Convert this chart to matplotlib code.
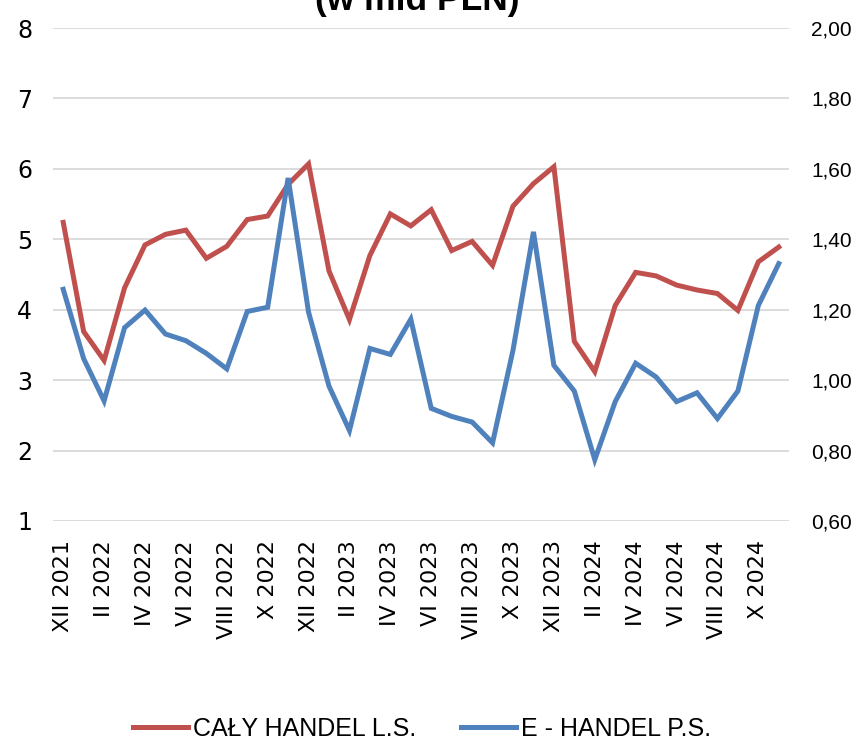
import matplotlib
matplotlib.use('Agg')
import matplotlib.pyplot as plt
from matplotlib.ticker import FuncFormatter

# monthly labels XII 2021 .. XI 2024
months = ['XII 2021', 'I 2022', 'II 2022', 'III 2022', 'IV 2022', 'V 2022', 'VI 2022', 'VII 2022',
          'VIII 2022', 'IX 2022', 'X 2022', 'XI 2022', 'XII 2022', 'I 2023', 'II 2023', 'III 2023',
          'IV 2023', 'V 2023', 'VI 2023', 'VII 2023', 'VIII 2023', 'IX 2023', 'X 2023', 'XI 2023',
          'XII 2023', 'I 2024', 'II 2024', 'III 2024', 'IV 2024', 'V 2024', 'VI 2024', 'VII 2024',
          'VIII 2024', 'IX 2024', 'X 2024', 'XI 2024']

# left scale, w mld PLN
caly_handel = [5.24, 3.69, 3.28, 4.31, 4.92, 5.07, 5.13, 4.73, 4.90, 5.28, 5.33, 5.78,
               6.07, 4.55, 3.86, 4.77, 5.36, 5.19, 5.42, 4.84, 4.97, 4.63, 5.47, 5.79,
               6.03, 3.55, 3.12, 4.06, 4.53, 4.48, 4.35, 4.28, 4.23, 3.99, 4.68, 4.89]

# right scale, w mld PLN
e_handel = [1.258, 1.061, 0.941, 1.149, 1.199, 1.131, 1.112, 1.076, 1.032, 1.195, 1.207, 1.574,
            1.193, 0.983, 0.857, 1.090, 1.073, 1.173, 0.920, 0.897, 0.881, 0.822, 1.085, 1.421,
            1.042, 0.969, 0.774, 0.939, 1.048, 1.009, 0.939, 0.964, 0.891, 0.969, 1.212, 1.331]

red = '#C0504D'
blue = '#4F81BD'

fig = plt.figure(figsize=(8.56, 7.41), dpi=100)
ax = fig.add_axes([53 / 856, 220 / 741, 736 / 856, 493 / 741])
ax2 = ax.twinx()

x = range(len(months))
l1, = ax.plot(x, caly_handel, color=red, lw=3.6, solid_joinstyle='miter', label='CAŁY HANDEL L.S.')
l2, = ax2.plot(x, e_handel, color=blue, lw=3.6, solid_joinstyle='miter', label='E - HANDEL P.S.')

ax.set_xlim(-0.5, len(months) - 0.5)
ax.set_ylim(1, 8)
ax2.set_ylim(0.6, 2.0)
ax.set_yticks(range(1, 9))
ax2.set_yticks([0.6, 0.8, 1.0, 1.2, 1.4, 1.6, 1.8, 2.0])
ax2.yaxis.set_major_formatter(FuncFormatter(lambda v, p: f'{v:.2f}'.replace('.', ',')))

ax.set_xticks(list(x)[::2])
ax.set_xticklabels(months[::2], rotation=90, fontsize=16, family='DejaVu Sans')

ax.grid(axis='y', color='#D9D9D9', lw=1.3)
ax.set_axisbelow(True)
for a in (ax, ax2):
    for s in a.spines.values():
        s.set_visible(False)
ax.tick_params(axis='x', length=0, pad=14)
ax.tick_params(axis='y', length=0, pad=15, labelsize=17)
ax2.tick_params(axis='y', length=0, pad=16, labelsize=15)
for t in ax2.get_yticklabels():
    t.set_family('Liberation Sans')

fig.text(0.488, 731 / 741, '(w mld PLN)', ha='center', va='baseline', fontsize=25.5,
         fontweight='bold', family=['Liberation Sans', 'DejaVu Sans'])

fig.legend(handles=[l1, l2], loc='center', bbox_to_anchor=(0.493, 0.016), ncol=2, frameon=False,
           prop={'family': 'Liberation Sans', 'size': 18}, handlelength=2.2, handletextpad=0.2,
           columnspacing=1.8, borderpad=0)

fig.savefig('out.png', dpi=100)
